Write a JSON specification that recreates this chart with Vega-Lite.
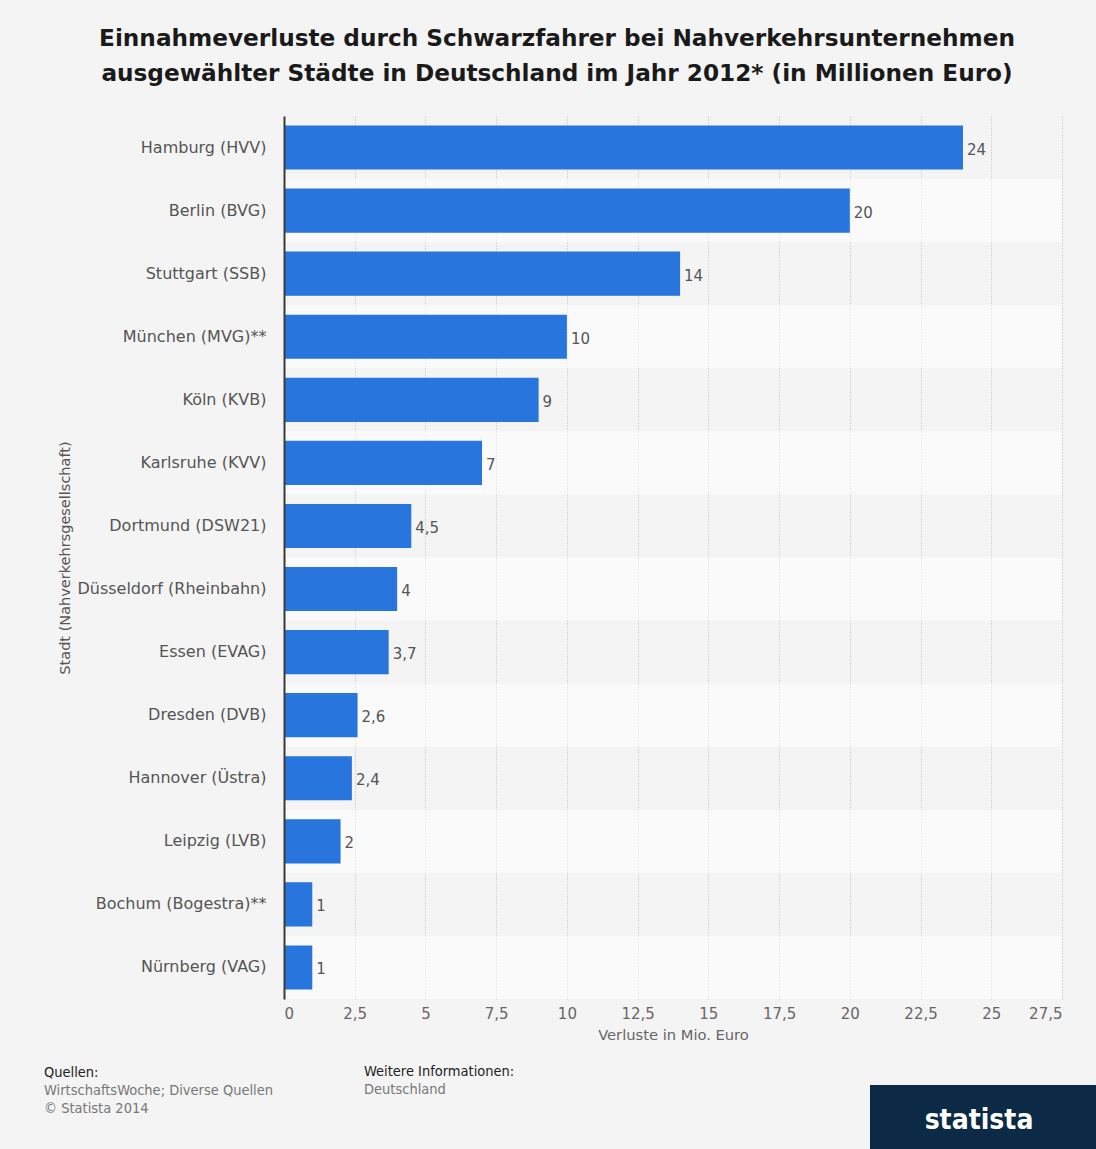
{
  "$schema": "https://vega.github.io/schema/vega-lite/v6.json",
  "background": "#f4f4f4",
  "padding": {"left": 44, "top": 26, "right": 0, "bottom": 0},
  "autosize": {"type": "pad"},
  "bounds": "flush",
  "spacing": 86,
  "title": {
    "text": ["Einnahmeverluste durch Schwarzfahrer bei Nahverkehrsunternehmen", "ausgewählter Städte in Deutschland im Jahr 2012* (in Millionen Euro)"],
    "font": "DejaVu Sans",
    "fontSize": 23.2,
    "fontWeight": "bold",
    "color": "#1a1a1a",
    "lineHeight": 35,
    "anchor": "middle",
    "frame": "group",
    "dx": 273,
    "offset": 30
  },
  "datasets": {
    "staedte": [
      {"stadt": "Hamburg (HVV)", "verlust": 24},
      {"stadt": "Berlin (BVG)", "verlust": 20},
      {"stadt": "Stuttgart (SSB)", "verlust": 14},
      {"stadt": "München (MVG)**", "verlust": 10},
      {"stadt": "Köln (KVB)", "verlust": 9},
      {"stadt": "Karlsruhe (KVV)", "verlust": 7},
      {"stadt": "Dortmund (DSW21)", "verlust": 4.5},
      {"stadt": "Düsseldorf (Rheinbahn)", "verlust": 4},
      {"stadt": "Essen (EVAG)", "verlust": 3.7},
      {"stadt": "Dresden (DVB)", "verlust": 2.6},
      {"stadt": "Hannover (Üstra)", "verlust": 2.4},
      {"stadt": "Leipzig (LVB)", "verlust": 2},
      {"stadt": "Bochum (Bogestra)**", "verlust": 1},
      {"stadt": "Nürnberg (VAG)", "verlust": 1}
    ],
    "leer": [{"t": ""}],
    "logo": [{"t": "statista"}]
  },
  "vconcat": [
    {
      "width": 778,
      "height": 883,
      "data": {"name": "staedte"},
      "transform": [{"window": [{"op": "row_number", "as": "rn"}]}],
      "encoding": {
        "y": {
          "field": "stadt",
          "type": "nominal",
          "sort": null,
          "scale": {"paddingInner": 0, "paddingOuter": 0},
          "axis": {
            "title": "Stadt (Nahverkehrsgesellschaft)",
            "titleFont": "DejaVu Sans",
            "titleFontSize": 14.5,
            "titleFontWeight": "normal",
            "titleColor": "#555555",
            "titlePadding": 12,
            "labelFont": "DejaVu Sans",
            "labelFontSize": 16,
            "labelColor": "#555555",
            "labelPadding": 18,
            "labelLimit": 300,
            "ticks": false,
            "domain": true,
            "domainColor": "#3a3a3a",
            "domainWidth": 2,
            "grid": false,
            "zindex": 1
          }
        }
      },
      "layer": [
        {
          "mark": {"type": "rect", "fill": "#ffffff"},
          "encoding": {
            "x": {"datum": 0, "type": "quantitative"},
            "x2": {"datum": 27.5},
            "fillOpacity": {"condition": {"test": "datum.rn % 2 == 0", "value": 0.55}, "value": 0}
          }
        },
        {
          "mark": {"type": "bar", "color": "#2876dd", "height": {"band": 0.7}},
          "encoding": {
            "x": {
              "field": "verlust",
              "type": "quantitative",
              "scale": {"domain": [0, 27.5], "nice": false, "zero": true},
              "axis": {
                "title": "Verluste in Mio. Euro",
                "titleFont": "DejaVu Sans",
                "titleFontSize": 14.7,
                "titleFontWeight": "normal",
                "titleColor": "#666666",
                "titlePadding": 6,
                "values": [0, 2.5, 5, 7.5, 10, 12.5, 15, 17.5, 20, 22.5, 25, 27.5],
                "format": ".3~g",
                "labelFont": "DejaVu Sans",
                "labelFontSize": 15,
                "labelColor": "#666666",
                "labelPadding": 7,
                "ticks": false,
                "domain": false,
                "grid": true,
                "gridColor": "#b8b8b8",
                "gridDash": [1, 2],
                "gridWidth": 1
              }
            }
          }
        },
        {
          "mark": {"type": "text", "align": "left", "baseline": "middle", "dx": 4, "dy": 2, "font": "DejaVu Sans", "fontSize": 15, "color": "#555555"},
          "encoding": {
            "x": {"field": "verlust", "type": "quantitative"},
            "text": {"field": "verlust", "type": "quantitative", "format": ".3~g"}
          }
        }
      ]
    },
    {
      "bounds": "flush",
      "spacing": 20,
      "hconcat": [
        {
          "width": 60,
          "height": 64,
          "data": {"name": "leer"},
          "mark": {"type": "text"},
          "encoding": {"text": {"field": "t", "type": "nominal"}},
          "title": {
            "text": "Quellen:",
            "subtitle": ["WirtschaftsWoche; Diverse Quellen", "© Statista 2014"],
            "anchor": "start",
            "frame": "group",
            "dx": -240,
            "offset": -31,
            "font": "DejaVu Sans Condensed",
            "fontSize": 14.5,
            "fontWeight": "normal",
            "color": "#222222",
            "subtitleFont": "DejaVu Sans Condensed",
            "subtitleFontSize": 14.5,
            "subtitleColor": "#777777",
            "subtitleLineHeight": 18,
            "subtitlePadding": 3
          }
        },
        {
          "width": 486,
          "height": 64,
          "data": {"name": "leer"},
          "mark": {"type": "text"},
          "encoding": {"text": {"field": "t", "type": "nominal"}},
          "title": {
            "text": "Weitere Informationen:",
            "subtitle": ["Deutschland"],
            "anchor": "start",
            "frame": "group",
            "offset": -12,
            "font": "DejaVu Sans Condensed",
            "fontSize": 14.5,
            "fontWeight": "normal",
            "color": "#222222",
            "subtitleFont": "DejaVu Sans Condensed",
            "subtitleFontSize": 14.5,
            "subtitleColor": "#777777",
            "subtitleLineHeight": 18,
            "subtitlePadding": 3
          }
        },
        {
          "width": 226,
          "height": 64,
          "view": {"fill": "#0c2a45", "stroke": null, "cornerRadius": 0},
          "data": {"name": "logo"},
          "mark": {"type": "text", "font": "DejaVu Sans Condensed", "fontSize": 28, "fontWeight": "bold", "color": "#ffffff", "baseline": "middle", "align": "center", "dy": 4, "dx": -4},
          "encoding": {"text": {"field": "t", "type": "nominal"}}
        }
      ]
    }
  ],
  "config": {
    "view": {"stroke": null},
    "font": "DejaVu Sans",
    "locale": {"number": {"decimal": ",", "thousands": ".", "grouping": [3], "currency": ["", " €"]}}
  }
}
